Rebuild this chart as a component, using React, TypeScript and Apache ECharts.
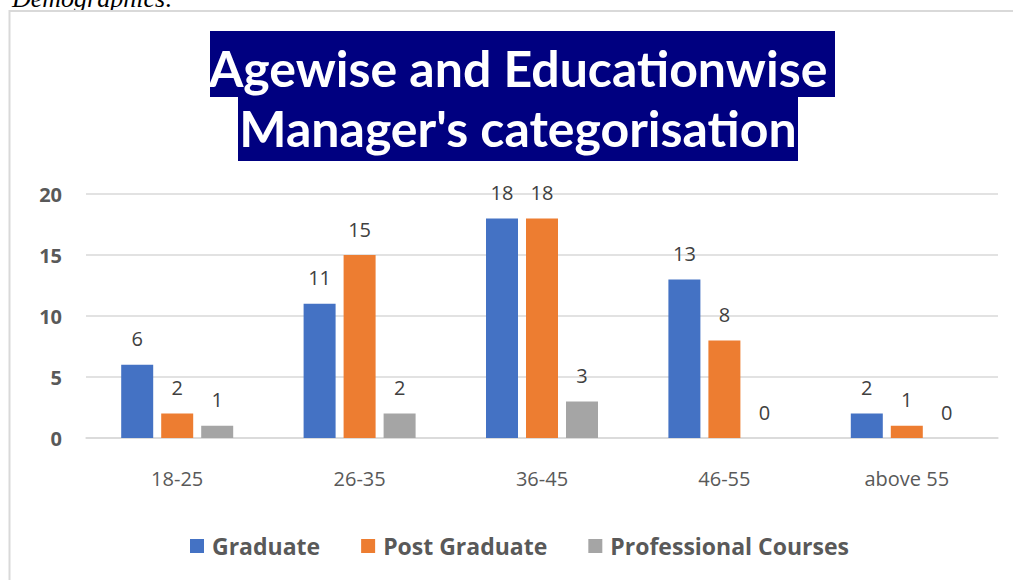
import React, { useEffect, useRef } from "react";
import * as echarts from "echarts";

const categories = ["18-25", "26-35", "36-45", "46-55", "above 55"];
const graduate = [6, 11, 18, 13, 2];
const postGraduate = [2, 15, 18, 8, 1];
const professional = [1, 2, 3, 0, 0];
const seriesNames = ["Graduate", "Post Graduate", "Professional Courses"];
const colors = ["#4472C4", "#ED7D31", "#A5A5A5"];
const titleLines = ["Agewise and Educationwise ", "Manager's categorisation"];
const captionText = "Demographics:";

export default function App() {
  const ref = useRef<HTMLDivElement>(null);
  useEffect(() => {
    if (!ref.current) return;
    const chart = echarts.init(ref.current, null, { renderer: "svg" });
    const dataSets = [graduate, postGraduate, professional];
    const labelStyle = {
      show: true,
      position: "top",
      distance: 16,
      color: "#404040",
      fontFamily: "Open Sans",
      fontSize: 20,
      lineHeight: 20,
    };
    chart.setOption({
      animation: false,
      backgroundColor: "#ffffff",
      color: colors,
      grid: { left: 86, right: 15, top: 194, bottom: 142, containLabel: false },
      xAxis: {
        type: "category",
        data: categories,
        axisTick: { show: false },
        axisLine: { show: true, lineStyle: { color: "#d9d9d9", width: 1.5 } },
        axisLabel: {
          margin: 30,
          color: "#595959",
          fontFamily: "Open Sans",
          fontSize: 20,
        },
      },
      yAxis: {
        type: "value",
        min: 0,
        max: 20,
        interval: 5,
        axisLine: { show: false },
        axisTick: { show: false },
        splitLine: { lineStyle: { color: "#d9d9d9", width: 1.5 } },
        axisLabel: {
          margin: 24,
          color: "#595959",
          fontFamily: "Open Sans",
          fontWeight: "bold",
          fontSize: 20,
        },
      },
      legend: {
        left: 190,
        top: 534,
        padding: 0,
        icon: "rect",
        itemWidth: 14,
        itemHeight: 14,
        itemGap: 41,
        data: seriesNames,
        textStyle: {
          color: "#595959",
          fontFamily: "Open Sans",
          fontWeight: "bold",
          fontSize: 23,
          lineHeight: 24,
          padding: [0, 0, 0, 3],
        },
      },
      series: seriesNames.map((name, i) => ({
        name,
        type: "bar",
        data: dataSets[i],
        barWidth: 32,
        barGap: "25%",
        itemStyle: { color: colors[i] },
        label: labelStyle,
      })),
      graphic: [
        {
          type: "text",
          x: 12,
          y: -2,
          style: {
            text: captionText,
            font: "italic 26px 'Liberation Serif'",
            fill: "#000000",
            textAlign: "left",
            textVerticalAlign: "middle",
          },
        },
        {
          type: "rect",
          shape: { x: 9.5, y: 11, width: 1100, height: 700 },
          style: { fill: "none", stroke: "#d9d9d9", lineWidth: 2 },
          silent: true,
        },
        {
          type: "rect",
          shape: { x: 210, y: 31, width: 625, height: 66 },
          style: { fill: "#000080" },
        },
        {
          type: "rect",
          shape: { x: 238, y: 97, width: 560, height: 64 },
          style: { fill: "#000080" },
        },
        {
          type: "text",
          x: 518,
          y: 68,
          style: {
            text: titleLines[0].trim(),
            font: "bold 50px Lato",
            fill: "#ffffff",
            textAlign: "center",
            textVerticalAlign: "middle",
          },
        },
        {
          type: "text",
          x: 518,
          y: 128,
          style: {
            text: titleLines[1],
            font: "bold 50px Lato",
            fill: "#ffffff",
            textAlign: "center",
            textVerticalAlign: "middle",
          },
        },
      ],
    });
    return () => chart.dispose();
  }, []);
  return (
    <div
      ref={ref}
      style={{ position: "absolute", left: 0, top: 0, width: 1013, height: 580 }}
    />
  );
}
